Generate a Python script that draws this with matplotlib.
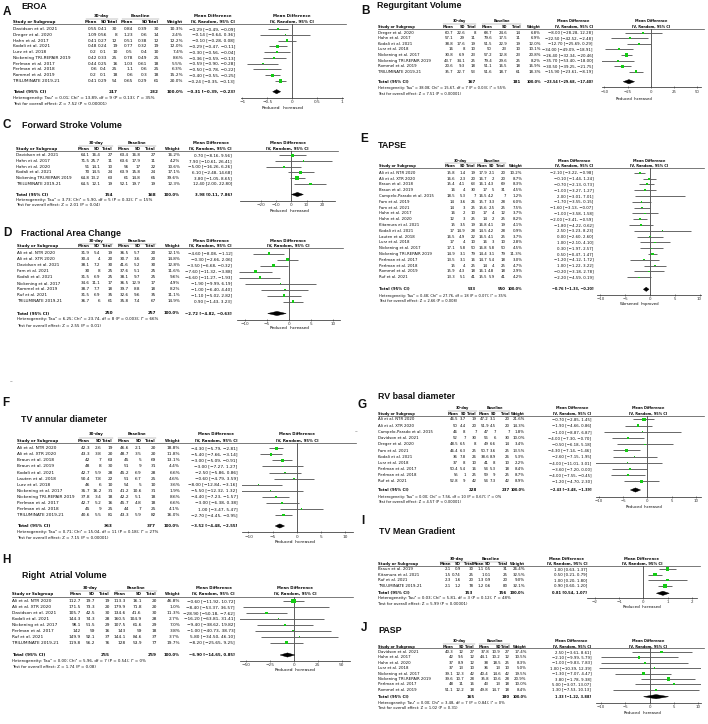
import matplotlib
matplotlib.use("Agg")
import matplotlib.pyplot as plt
from matplotlib.patches import Polygon

# ======================= DATA =======================
A_title = "EROA"
A_study = ["Davidson et al. 2021", "Dreger et al. 2020", "Hahn et al. 2017", "Kodali et al. 2021", "Lurz et al. 2018",
           "Nickening TRI-REPAIR 2019", "Perlman et al. 2017", "Perlman et al. 2018", "Rommel et al. 2019", "TRILUMINATE 2019-21"]
A_m1 = [0.55, 1.09, 0.41, 0.48, 0.2, 0.42, 0.44, 0.6, 0.2, 0.41]
A_sd1 = [0.41, 0.56, 0.27, 0.24, 0.1, 0.33, 0.25, 0.4, 0.1, 0.29]
A_n1 = [30, 8, 12, 19, 10, 25, 16, 25, 18, 54]
A_m2 = [0.84, 1.23, 0.51, 0.77, 0.5, 0.78, 1.03, 1.1, 0.6, 0.65]
A_sd2 = [0.39, 0.6, 0.38, 0.32, 0.4, 0.49, 0.61, 0.6, 0.3, 0.29]
A_n2 = [30, 14, 12, 19, 10, 25, 18, 25, 18, 61]
A_w = [10.3, 2.4, 12.2, 12.0, 7.4, 8.6, 5.5, 6.3, 15.2, 20.0]
A_md = [-0.29, -0.14, -0.10, -0.29, -0.30, -0.36, -0.59, -0.50, -0.40, -0.24]
A_lo = [-0.49, -0.64, -0.28, -0.47, -0.56, -0.59, -0.90, -0.78, -0.55, -0.35]
A_hi = [-0.09, 0.36, 0.08, -0.11, -0.04, -0.13, -0.28, -0.22, -0.25, -0.13]
A_total = [217, 232, -0.31, -0.39, -0.23]
A_het = "Heterogeneity: Tau² = 0.01; Chi² = 13.89, df = 9 (P = 0.13); I² = 35%"
A_test = "Test for overall effect: Z = 7.52 (P < 0.00001)"
A_ticks = [-1, -0.5, 0, 0.5, 1]
A_sides = ["Reduced", "Increased"]

B_title = "Regurgitant Volume"
B_study = ["Dreger et al. 2020", "Hahn et al. 2017", "Kodali et al. 2021", "Lurz et al. 2018", "Nickening et al. 2017",
           "Nickening TRI-REPAIR 2019", "Rommel et al. 2019", "TRILUMINATE 2019-21"]
B_m1 = [60.7, 57.1, 38.8, 16, 30.8, 43.7, 20.6, 35.7]
B_sd1 = [22.6, 29, 17.6, 8, 6.9, 34.1, 9.3, 22.7]
B_n1 = [8, 11, 19, 10, 23, 25, 18, 53]
B_m2 = [68.7, 79.6, 51.5, 50, 57.2, 79.4, 51.1, 51.6]
B_sd2 = [24.6, 17.5, 22.9, 23, 12.8, 29.6, 16.5, 18.7]
B_n2 = [14, 11, 19, 10, 23, 25, 18, 61]
B_w = [6.8, 6.9, 12.0, 10.1, 20.8, 8.2, 16.9, 18.3]
B_md = [-8.00, -22.50, -12.70, -34.00, -26.40, -35.70, -30.50, -15.90]
B_lo = [-28.28, -42.52, -25.69, -49.09, -32.34, -53.40, -39.25, -23.61]
B_hi = [12.28, -2.48, 0.29, -18.91, -20.46, -18.00, -21.75, -8.19]
B_total = [167, 181, -23.54, -29.68, -17.40]
B_het = "Heterogeneity: Tau² = 38.08; Chi² = 15.67, df = 7 (P = 0.03); I² = 55%"
B_test = "Test for overall effect: Z = 7.51 (P < 0.00001)"
B_ticks = [-50, -25, 0, 25, 50]
B_sides = ["Reduced", "Increased"]

C_title = "Forward Stroke Volume"
C_study = ["Davidson et al. 2021", "Hahn et al. 2017", "Hahn et al. 2020", "Kodali et al. 2021",
           "Nickening TRI-REPAIR 2019", "TRILUMINATE 2019-21"]
C_m1 = [64.1, 71.5, 51, 70, 64.8, 64.5]
C_sd1 = [16.4, 25.7, 14.1, 14.5, 13.2, 12.1]
C_n1 = [27, 11, 10, 24, 63, 19]
C_m2 = [63.4, 63.6, 56, 63.9, 61, 52.1]
C_sd2 = [16.8, 17.9, 17, 15.8, 14.8, 19.7]
C_n2 = [27, 11, 22, 24, 65, 19]
C_w = [16.2, 4.2, 10.6, 17.1, 39.6, 12.3]
C_md = [0.70, 7.90, -5.00, 6.10, 3.80, 12.40]
C_lo = [-8.16, -10.61, -16.26, -2.48, -1.05, 2.00]
C_hi = [9.56, 26.41, 6.26, 14.68, 8.65, 22.80]
C_total = [154, 168, 3.98, 0.11, 7.86]
C_het = "Heterogeneity: Tau² = 3.73; Chi² = 5.90, df = 5 (P = 0.32); I² = 15%"
C_test = "Test for overall effect: Z = 2.01 (P = 0.04)"
C_ticks = [-20, -10, 0, 10, 20]
C_sides = ["Reduced", "Increased"]

D_title = "Fractional Area Change"
D_study = ["Ali et al. NTR 2020", "Ali et al. XTR 2020", "Davidson et al. 2021", "Fam et al. 2021", "Kodali et al. 2021",
           "Nickening et al. 2017", "Rommel et al. 2019", "Ruf et al. 2021", "TRILUMINATE 2019-21"]
D_m1 = [31.9, 30.4, 38.1, 30, 31.5, 34.6, 38.7, 31.5, 36.7]
D_sd1 = [5.4, 4, 7.2, 8, 6.9, 11.1, 7.7, 6.9, 6]
D_n1 = [19, 20, 30, 25, 25, 17, 18, 35, 61]
D_m2 = [36.5, 30.7, 41.6, 37.6, 38.1, 36.5, 39.7, 32.6, 35.8]
D_sd2 = [5.7, 3.6, 5.2, 5.1, 9.7, 12.9, 8.8, 9.6, 7.4]
D_n2 = [20, 20, 30, 25, 25, 17, 18, 35, 67]
D_w = [12.1, 14.8, 12.8, 11.6, 9.6, 4.9, 8.2, 11.1, 14.9]
D_md = [-4.60, -0.30, -3.50, -7.60, -6.60, -1.90, -1.00, -1.10, 0.90]
D_lo = [-8.08, -2.66, -6.68, -11.32, -11.27, -9.99, -6.40, -5.02, -1.43]
D_hi = [-1.12, 2.06, -0.32, -3.88, -1.93, 6.19, 4.40, 2.82, 3.23]
D_total = [250, 257, -2.72, -4.82, -0.63]
D_het = "Heterogeneity: Tau² = 6.25; Chi² = 23.74, df = 8 (P = 0.003); I² = 66%"
D_test = "Test for overall effect: Z = 2.55 (P = 0.01)"
D_ticks = [-10, -5, 0, 5, 10]
D_sides = ["Reduced", "Increased"]

E_title = "TAPSE"
E_study = ["Ali et al. NTR 2020", "Ali et al. XTR 2020", "Braun et al. 2018", "Braun et al. 2019",
           "Campelo-Parado et al. 2015", "Fam et al. 2019", "Fam et al. 2021", "Hahn et al. 2017", "Hahn et al. 2020",
           "Kitamura et al. 2021", "Kodali et al. 2021", "Lauten et al. 2018", "Lurz et al. 2018",
           "Nickening et al. 2017", "Nickening TRI-REPAIR 2019", "Perlman et al. 2017", "Perlman et al. 2018",
           "Rommel et al. 2019", "Ruf et al. 2021"]
E_m1 = [15.8, 16.6, 15.4, 16, 18.5, 14, 14, 16, 12, 15, 17, 16.5, 17, 17.1, 14.9, 13.5, 15, 15.9, 13.3]
E_sd1 = [1.4, 2.3, 4.1, 4, 5.3, 3.6, 3, 2, 3, 3.5, 14.9, 4.9, 4, 5.8, 3.1, 3.1, 4, 4.3, 5.1]
E_n1 = [19, 20, 63, 30, 7, 26, 25, 10, 25, 19, 28, 22, 10, 50, 79, 16, 25, 18, 41]
E_m2 = [17.9, 16.7, 16.1, 17, 16.5, 15.7, 15.6, 17, 14, 16.8, 14.5, 16.5, 16, 16.8, 14.4, 14.7, 14, 16.1, 15.5]
E_sd2 = [2.1, 2, 4.3, 5, 4.2, 3.3, 2.5, 4, 2, 4.1, 4.2, 4.1, 3, 5.8, 3.1, 5.4, 4, 4.8, 5.9]
E_n2 = [20, 20, 69, 31, 7, 28, 25, 12, 25, 19, 28, 25, 10, 50, 79, 18, 25, 18, 41]
E_w = [10.2, 8.7, 8.3, 4.5, 1.2, 6.0, 7.5, 3.7, 8.2, 4.1, 0.9, 3.7, 2.8, 4.5, 11.3, 3.0, 4.7, 2.9, 4.2]
E_md = [-2.10, -0.10, -0.70, -1.00, 2.00, -1.70, -1.60, -1.00, -2.00, -1.80, 2.50, 0.00, 1.00, 0.30, 0.50,
        -1.20, 1.00, -0.20, -2.20]
E_lo = [-3.22, -1.44, -2.13, -3.27, -3.01, -3.55, -3.13, -3.58, -3.41, -4.22, -3.23, -2.60, -2.10, -1.97, -0.47,
        -4.12, -1.22, -3.18, -4.59]
E_hi = [-0.98, 1.24, 0.73, 1.27, 7.01, 0.15, -0.07, 1.58, -0.59, 0.62, 8.23, 2.60, 4.10, 2.57, 1.47,
        1.72, 3.22, 2.78, 0.19]
E_total = [533, 550, -0.76, -1.33, -0.20]
E_het = "Heterogeneity: Tau² = 0.48; Chi² = 27.76, df = 18 (P = 0.07); I² = 35%"
E_test = "Test for overall effect: Z = 2.66 (P = 0.008)"
E_ticks = [-10, -5, 0, 5, 10]
E_sides = ["Worsened", "Improved"]

F_title = "TV annular diameter"
F_study = ["Ali et al. NTR 2020", "Ali et al. XTR 2020", "Braun et al. 2018", "Braun et al. 2019", "Kodali et al. 2021",
           "Lauten et al. 2018", "Lurz et al. 2018", "Nickening et al. 2017", "Nickening TRI-REPAIR 2019",
           "Perlman et al. 2017", "Perlman et al. 2018", "TRILUMINATE 2019-21"]
F_m1 = [42.3, 43.3, 42, 48, 42.7, 50.4, 46, 35.7, 37.8, 42.7, 45, 40.6]
F_sd1 = [2.6, 3.8, 7, 8, 5.9, 7.8, 6, 16.2, 3.4, 5.2, 9, 5.5]
F_n1 = [19, 20, 63, 30, 28, 22, 10, 31, 18, 16, 25, 81]
F_m2 = [46.6, 48.7, 45, 51, 45.2, 51, 54, 41.2, 42.2, 45.7, 44, 43.3]
F_sd2 = [2.1, 3.5, 5, 9, 6.9, 6.7, 5, 10.6, 5.1, 4.8, 7, 5.9]
F_n2 = [20, 20, 69, 31, 28, 25, 10, 31, 18, 18, 25, 82]
F_w = [18.8, 11.8, 13.1, 4.4, 6.6, 4.6, 3.6, 1.9, 8.6, 6.6, 4.1, 16.0]
F_md = [-4.30, -5.40, -3.00, -3.00, -2.50, -0.60, -8.00, -5.50, -4.40, -3.00, 1.00, -2.70]
F_lo = [-5.79, -7.66, -5.09, -7.27, -5.86, -4.79, -12.84, -12.32, -7.23, -6.38, -3.47, -4.45]
F_hi = [-2.81, -3.14, -0.91, 1.27, 0.86, 3.59, -3.16, 1.32, -1.57, 0.38, 5.47, -0.95]
F_total = [363, 377, -3.52, -4.48, -2.55]
F_het = "Heterogeneity: Tau² = 0.71; Chi² = 15.04, df = 11 (P = 0.18); I² = 27%"
F_test = "Test for overall effect: Z = 7.15 (P < 0.00001)"
F_ticks = [-10, -5, 0, 5, 10]
F_sides = ["Reduced", "Increased"]

G_title = "RV basal diameter"
G_study = ["Ali et al. NTR 2020", "Ali et al. XTR 2020", "Campelo-Parado et al. 2015", "Davidson et al. 2021",
           "Dreger et al. 2020", "Fam et al. 2021", "Kodali et al. 2021", "Lurz et al. 2018", "Perlman et al. 2017",
           "Perlman et al. 2018", "Ruf et al. 2021"]
G_m1 = [46.5, 50, 46, 52, 48.5, 46.4, 36, 37, 50.4, 55, 52.8]
G_sd1 = [3.7, 4.4, 8, 7, 6.5, 6.3, 7.8, 8, 5.4, 1, 9]
G_n1 = [19, 20, 7, 30, 8, 25, 26, 10, 16, 25, 42]
G_m2 = [47.2, 51.9, 47, 56, 49, 50.7, 38.6, 41, 54, 59, 54]
G_sd2 = [3.1, 4.5, 7, 6, 6.6, 3.6, 8.9, 8, 5.3, 9, 7.3]
G_n2 = [20, 20, 7, 30, 14, 25, 26, 10, 18, 25, 42]
G_w = [21.6, 14.3, 1.8, 10.0, 3.4, 13.5, 5.3, 2.2, 8.4, 8.7, 8.9]
G_md = [-0.70, -1.90, -1.00, -4.00, -0.50, -4.30, -2.60, -4.00, -3.60, -4.00, -1.20]
G_lo = [-2.85, -4.66, -8.87, -7.30, -6.18, -7.14, -7.15, -11.01, -7.20, -7.55, -4.70]
G_hi = [1.45, 0.86, 6.87, -0.70, 5.18, -1.46, 1.95, 3.01, 0.00, -0.45, 2.30]
G_total = [228, 237, -2.43, -3.48, -1.39]
G_het = "Heterogeneity: Tau² = 0.00; Chi² = 7.56, df = 10 (P = 0.67); I² = 0%"
G_test = "Test for overall effect: Z = 4.57 (P < 0.00001)"
G_ticks = [-10, -5, 0, 5, 10]
G_sides = ["Reduced", "Increased"]

H_title = "Right  Atrial Volume"
H_study = ["Ali et al. NTR 2020", "Ali et al. XTR 2020", "Davidson et al. 2021", "Kodali et al. 2021",
           "Nickening et al. 2017", "Perlman et al. 2017", "Ruf et al. 2021", "TRILUMINATE 2019-21"]
H_m1 = [112.7, 171.5, 105.7, 144.3, 98.1, 142, 149.9, 119.8]
H_sd1 = [19.7, 73.3, 42.5, 74.3, 51.5, 59, 92.1, 56.2]
H_n1 = [19, 20, 30, 28, 29, 16, 37, 76]
H_m2 = [113.3, 179.9, 134.6, 160.5, 107.5, 143, 144.1, 128]
H_sd2 = [16.1, 71.8, 41.6, 104.9, 61.6, 59, 84.6, 53.9]
H_n2 = [20, 20, 30, 28, 29, 18, 37, 77]
H_w = [46.8, 1.0, 11.3, 2.7, 7.0, 3.8, 3.7, 19.7]
H_md = [-0.60, -8.40, -28.90, -16.20, -9.40, -1.00, 5.80, -8.20]
H_lo = [-11.92, -53.37, -50.18, -63.81, -38.62, -40.73, -34.50, -25.65]
H_hi = [10.72, 36.57, -7.62, 31.41, 19.82, 38.73, 46.10, 9.25]
H_total = [255, 259, -6.90, -14.65, 0.85]
H_het = "Heterogeneity: Tau² = 0.00; Chi² = 5.96, df = 7 (P = 0.54); I² = 0%"
H_test = "Test for overall effect: Z = 1.74 (P = 0.08)"
H_ticks = [-50, -25, 0, 25, 50]
H_sides = ["Reduced", "Increased"]

I_title = "TV Mean Gradient"
I_study = ["Braun et al. 2019", "Kitamura et al. 2021", "Ruf et al. 2021", "TRILUMINATE 2019-21"]
I_m1 = [2.1, 1.5, 2.3, 2.1]
I_sd1 = [0.9, 0.74, 1.6, 1.2]
I_n1 = [30, 25, 20, 78]
I_m2 = [1.1, 1, 1.3, 1.2]
I_sd2 = [0.5, 0.1, 0.9, 0.6]
I_n2 = [31, 25, 20, 80]
I_w = [26.4, 32.5, 9.0, 32.1]
I_md = [1.00, 0.50, 1.00, 0.90]
I_lo = [0.63, 0.21, 0.20, 0.60]
I_hi = [1.37, 0.79, 1.80, 1.20]
I_total = [153, 156, 0.81, 0.54, 1.07]
I_het = "Heterogeneity: Tau² = 0.03; Chi² = 5.81, df = 3 (P = 0.12); I² = 48%"
I_test = "Test for overall effect: Z = 5.99 (P < 0.00001)"
I_ticks = [-2, -1, 0, 1, 2]
I_sides = ["Reduced", "Increased"]

J_title = "PASP"
J_study = ["Davidson et al. 2021", "Hahn et al. 2017", "Hahn et al. 2020", "Lurz et al. 2018", "Nickening et al. 2017",
           "Nickening TRI-REPAIR 2019", "Perlman et al. 2017", "Rommel et al. 2019"]
J_m1 = [40.3, 42, 37, 37, 39.1, 39.6, 48, 51.1]
J_sd1 = [12, 9.5, 8.9, 13, 12.3, 10.7, 11, 12.2]
J_n1 = [27, 12, 12, 10, 42, 28, 16, 18]
J_m2 = [37.8, 44.1, 38, 36, 40.4, 35.8, 43, 49.8]
J_sd2 = [10.9, 10.2, 18.5, 13, 14.6, 10.6, 13, 14.7]
J_n2 = [27, 12, 25, 10, 42, 28, 18, 18]
J_w = [17.4, 10.5, 8.3, 5.0, 19.5, 20.9, 10.0, 8.4]
J_md = [2.50, -2.10, -1.00, 1.00, -1.30, 3.80, 5.00, 1.30]
J_lo = [-3.61, -9.99, -9.83, -10.39, -7.07, -1.78, -3.07, -7.53]
J_hi = [8.61, 5.79, 7.83, 12.39, 4.47, 9.38, 13.07, 10.13]
J_total = [165, 180, 1.33, -1.22, 3.88]
J_het = "Heterogeneity: Tau² = 0.00; Chi² = 3.48, df = 7 (P = 0.84); I² = 0%"
J_test = "Test for overall effect: Z = 1.02 (P = 0.31)"
J_ticks = [-10, -5, 0, 5, 10]
J_sides = ["Reduced", "Increased"]

# build per-panel data tables from the named arrays
_g = globals()
_fields = ["title", "study", "m1", "sd1", "n1", "m2", "sd2", "n2", "w", "md", "lo", "hi",
           "total", "het", "test", "ticks", "sides"]
PANELS = {k: {f: _g[f"{k}_{f}"] for f in _fields} for k in "ABCDEFGHIJ"}

# ======================= LAYOUT (pixel coords) =======================
LAY = {
    "A": dict(letter=(7, 12), title=(21, 6.5), fs=3.1, sx=13,
              cols=[97, 107, 117.5, 133, 147.5, 159, 183, 235],
              ygrp=15.7, yhdr=21.7, yline=24, y0=29, dy=5.78, ytot=91.7, yhet=97.7, ytest=103.7,
              fx=(241, 343), xlim=(-1.03, 1.03), yaxis=97.7, ylab=107.7, labx=281.5),
    "B": dict(letter=(365, 10.5), title=(377, 5.5), fs=2.75, sx=378,
              cols=[453, 465, 476, 492, 507, 521, 541, 593],
              ygrp=20.7, yhdr=26.7, yline=29.3, y0=32.7, dy=5.57, ytot=81.7, yhet=88.3, ytest=94.3,
              fx=(602, 701), xlim=(-52.6, 54.3), yaxis=87.3, ylab=99, labx=633),
    "C": dict(letter=(7, 124.5), title=(21.5, 125), fs=3.0, sx=16,
              cols=[90, 100, 113, 129, 140.5, 156, 180, 232],
              ygrp=143.3, yhdr=149, yline=150.9, y0=155.2, dy=5.73, ytot=194.5, yhet=199.5, ytest=205.2,
              fx=(240, 335), xlim=(-33.5, 28.5), yaxis=201, ylab=210.7, labx=289),
    "D": dict(letter=(7, 233.5), title=(20.7, 233.5), fs=3.0, sx=16.7,
              cols=[90, 100, 113, 129, 140.5, 156, 180, 232],
              ygrp=241, yhdr=246, yline=248.3, y0=253.5, dy=6.0, ytot=313.5, yhet=319.3, ytest=325.7,
              fx=(237, 340), xlim=(-11.8, 11.6), yaxis=320, ylab=328, labx=289),
    "E": dict(letter=(364, 139), title=(378, 145), fs=2.75, sx=379,
              cols=[455, 465.5, 475.7, 487.3, 494.5, 505.7, 522.3, 593.3],
              ygrp=160.7, yhdr=166, yline=168.3, y0=172.7, dy=5.81, ytot=289.3, yhet=295.7, ytest=301.3,
              fx=(597, 701), xlim=(-10.7, 10.3), yaxis=294.5, ylab=304, labx=640),
    "F": dict(letter=(6, 402.5), title=(20.7, 419), fs=3.05, sx=16.7,
              cols=[90, 101.7, 112.7, 129.3, 141.7, 156, 180, 237.3],
              ygrp=434.3, yhdr=440.7, yline=442.7, y0=448.3, dy=6.06, ytot=526, yhet=532.3, ytest=538.3,
              fx=(241.7, 353), xlim=(-11.4, 11.6), yaxis=532.3, ylab=541.7, labx=294),
    "G": dict(letter=(362, 405), title=(378, 396.5), fs=2.75, sx=378,
              cols=[458, 465.7, 476.7, 489, 495.7, 510, 525, 591.3],
              ygrp=408.3, yhdr=414, yline=416, y0=419.5, dy=6.2, ytot=490, yhet=496.7, ytest=502.3,
              fx=(595.7, 700.7), xlim=(-10.6, 10.95), yaxis=496.5, ylab=507.3, labx=643),
    "H": dict(letter=(6.3, 560.3), title=(21.7, 575.7), fs=3.05, sx=11.7,
              cols=[81, 95, 110, 126, 141.7, 156.7, 180, 235],
              ygrp=588.3, yhdr=594, yline=596.7, y0=601, dy=5.95, ytot=655, yhet=661, ytest=667.3,
              fx=(240, 350), xlim=(-56.8, 58.9), yaxis=660.5, ylab=670, labx=294),
    "I": dict(letter=(363, 521), title=(379, 531.7), fs=2.9, sx=378,
              cols=[450.7, 460.7, 473.3, 484, 490.7, 507.3, 525, 587.3],
              ygrp=559, yhdr=564, yline=566.3, y0=569, dy=5.55, ytot=593.3, yhet=598.5, ytest=604,
              fx=(587, 697), xlim=(-2.33, 2.22), yaxis=598, ylab=606.7, labx=641),
    "J": dict(letter=(364, 628.3), title=(378, 630.8), fs=2.8, sx=378,
              cols=[453.3, 464, 474.7, 489, 500.7, 510, 526.7, 591.3],
              ygrp=640.7, yhdr=646.7, yline=648.3, y0=652, dy=5.4, ytot=696.7, yhet=702.7, ytest=708.3,
              fx=(595.7, 700.7), xlim=(-11.0, 10.45), yaxis=702.5, ylab=712.7, labx=642),
}

W, H = 708, 724
fig = plt.figure(figsize=(W / 100, H / 100), dpi=100)
fig.patch.set_facecolor("white")
ax = fig.add_axes([0, 0, 1, 1])
ax.set_xlim(0, W)
ax.set_ylim(H, 0)
ax.axis("off")

TXT = "#0a0a0a"
GREEN = "#14cc14"
GREY = "#5c5c5c"
TAB_FONT = "DejaVu Sans"
TITLE_FONT = "Liberation Sans"


def num(v):
    return f"{v:g}".replace("-", "\u2212")


def ci(m, lo, hi):
    return f"{m:.2f} [{lo:.2f}, {hi:.2f}]".replace("-", "\u2212")


def draw(key):
    d = PANELS[key]
    L = LAY[key]
    fs = L["fs"]
    hfs = fs * 0.92
    em = hfs * 100 / 72.0
    kw = dict(fontsize=fs, color=TXT, va="center", family=TAB_FONT)
    kwh = dict(kw, fontsize=hfs, fontweight="bold")
    kwb = dict(kw, fontweight="bold")
    c = L["cols"]
    sx = L["sx"]
    fx0, fx1 = L["fx"]

    ax.text(L["letter"][0], L["letter"][1], key, fontsize=8.5, fontweight="bold", family=TITLE_FONT,
            ha="center", va="center", color="#111111")
    ax.text(L["title"][0], L["title"][1], d["title"], fontsize=6.4, fontweight="bold", family=TITLE_FONT,
            ha="left", va="center", color="#111111")

    wmean = 2.8 * em
    g1a, g1b = c[0] - wmean, c[2]
    g2a, g2b = c[3] - wmean, c[5]
    ax.text((g1a + g1b) / 2, L["ygrp"], "30-day", ha="center", **kwh)
    ax.text((g2a + g2b) / 2, L["ygrp"], "Baseline", ha="center", **kwh)
    yl = L["ygrp"] + (L["yhdr"] - L["ygrp"]) * 0.5
    ax.plot([g1a, g1b], [yl, yl], color="#777777", lw=0.3)
    ax.plot([g2a, g2b], [yl, yl], color="#777777", lw=0.3)
    wmd = 11.0 * em
    ax.text(c[7] - wmd / 2, L["ygrp"], "Mean Difference", ha="center", **kwh)
    ax.text(c[7], L["yhdr"], "IV, Random, 95% CI", ha="right", **kwh)
    fc = (fx0 + fx1) / 2
    ax.text(fc, L["ygrp"], "Mean Difference", ha="center", **kwh)
    ax.text(fc, L["yhdr"], "IV, Random, 95% CI", ha="center", **kwh)
    ax.text(sx, L["yhdr"], "Study or Subgroup", ha="left", **kwh)
    for lab, xr in zip(["Mean", "SD", "Total", "Mean", "SD", "Total", "Weight"], c[:7]):
        ax.text(xr, L["yhdr"], lab, ha="right", **kwh)
    ax.plot([sx, fx1 + 3], [L["yline"], L["yline"]], color="#444444", lw=0.5)

    ys = [L["y0"] + i * L["dy"] for i in range(len(d["study"]))]
    for i, name in enumerate(d["study"]):
        y = ys[i]
        ax.text(sx, y, name, ha="left", **kw)
        vals = [d["m1"][i], d["sd1"][i], d["n1"][i], d["m2"][i], d["sd2"][i], d["n2"][i]]
        for v, xr in zip(vals, c[:6]):
            ax.text(xr, y, num(v), ha="right", **kw)
        ax.text(c[6], y, f"{d['w'][i]:.1f}%", ha="right", **kw)
        ax.text(c[7], y, ci(d["md"][i], d["lo"][i], d["hi"][i]), ha="right", **kw)

    tn1, tn2, tm, tlo, thi = d["total"]
    ax.text(sx, L["ytot"], "Total (95% CI)", ha="left", **kwb)
    ax.text(c[2], L["ytot"], f"{tn1}", ha="right", **kwb)
    ax.text(c[5], L["ytot"], f"{tn2}", ha="right", **kwb)
    ax.text(c[6], L["ytot"], "100.0%", ha="right", **kwh)
    ax.text(c[7], L["ytot"], ci(tm, tlo, thi), ha="right", **kwh)
    ax.text(sx, L["yhet"], d["het"], ha="left", **dict(kw, fontsize=fs * 0.95))
    ax.text(sx, L["ytest"], d["test"], ha="left", **dict(kw, fontsize=fs * 0.95))

    # ---- forest plot ----
    top, bot = L["yline"], L["yaxis"]
    fa = fig.add_axes([fx0 / W, 1 - bot / H, (fx1 - fx0) / W, (bot - top) / H])
    fa.set_xlim(*L["xlim"])
    fa.set_ylim(bot, top)
    fa.patch.set_alpha(0)
    for s in ("top", "left", "right"):
        fa.spines[s].set_visible(False)
    fa.spines["bottom"].set_linewidth(0.55)
    fa.spines["bottom"].set_color("#333333")
    fa.set_yticks([])
    fa.set_xticks(d["ticks"])
    fa.set_xticklabels([num(t) for t in d["ticks"]], fontsize=fs, family=TAB_FONT, color=TXT)
    fa.tick_params(axis="x", length=1.6, width=0.4, pad=0.8, direction="inout", colors="#333333")
    fa.axvline(0, color="#333333", lw=0.55, zorder=1)
    fa.hlines(ys, d["lo"], d["hi"], color=GREY, lw=0.65, zorder=2)
    sizes = [max(0.35, 0.24 * w) for w in d["w"]]
    fa.scatter(d["md"], ys, s=sizes, marker="s", color=GREEN, linewidths=0, zorder=3)
    hh = 2.1
    yt = L["ytot"]
    fa.add_patch(Polygon([[tlo, yt], [tm, yt - hh], [thi, yt], [tm, yt + hh]], closed=True,
                         facecolor="black", edgecolor="black", lw=0.3, zorder=3))

    ax.text(L["labx"] - 1, L["ylab"], d["sides"][0], ha="right", **kw)
    ax.text(L["labx"] + 1, L["ylab"], d["sides"][1], ha="left", **kw)


for k in "ABCDEFGHIJ":
    draw(k)

# small stray marks present in the original figure
ax.text(11, 381.7, "\u2013", fontsize=4, color="#555555", ha="center", va="center")
ax.text(356, 431.7, "\u2013", fontsize=4, color="#555555", ha="center", va="center")

fig.savefig("out.png", dpi=100, facecolor="white")
